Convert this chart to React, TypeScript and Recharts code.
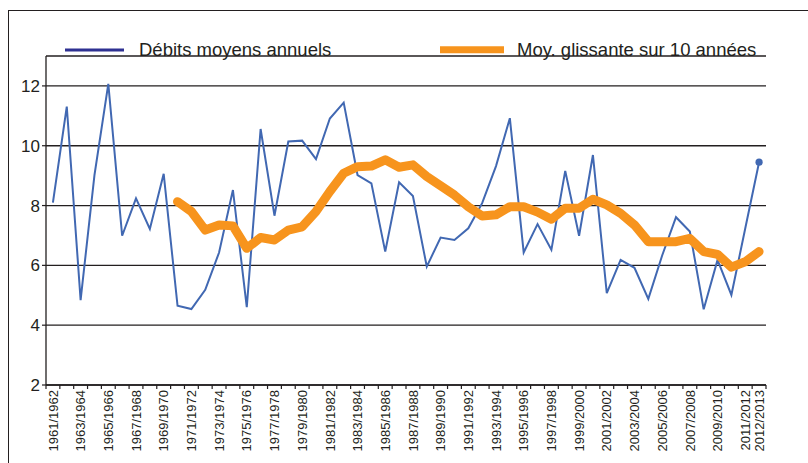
import React from 'react';
import { LineChart, Line, XAxis, YAxis, CartesianGrid } from 'recharts';

const years: string[] = [
  '1961/1962', '1962/1963', '1963/1964', '1964/1965', '1965/1966', '1966/1967', '1967/1968', '1968/1969',
  '1969/1970', '1970/1971', '1971/1972', '1972/1973', '1973/1974', '1974/1975', '1975/1976', '1976/1977',
  '1977/1978', '1978/1979', '1979/1980', '1980/1981', '1981/1982', '1982/1983', '1983/1984', '1984/1985',
  '1985/1986', '1986/1987', '1987/1988', '1988/1989', '1989/1990', '1990/1991', '1991/1992', '1992/1993',
  '1993/1994', '1994/1995', '1995/1996', '1996/1997', '1997/1998', '1998/1999', '1999/2000', '2000/2001',
  '2001/2002', '2002/2003', '2003/2004', '2004/2005', '2005/2006', '2006/2007', '2007/2008', '2008/2009',
  '2009/2010', '2010/2011', '2011/2012', '2012/2013',
];

const debits: number[] = [
  8.10, 11.31, 4.84, 9.02, 12.07, 6.99, 8.24, 7.22, 9.06, 4.65,
  4.54, 5.18, 6.43, 8.52, 4.60, 10.56, 7.66, 10.14, 10.17, 9.55,
  10.91, 11.44, 9.02, 8.74, 6.46, 8.78, 8.32, 5.96, 6.93, 6.85,
  7.24, 8.08, 9.32, 10.92, 6.43, 7.38, 6.52, 9.16, 6.99, 9.69,
  5.07, 6.18, 5.92, 4.88, 6.33, 7.61, 7.13, 4.53, 6.18, 5.01,
  7.23, 9.45,
];

const moyenne: (number | null)[] = [
  null, null, null, null, null, null, null, null, null, 8.13,
  7.80, 7.18, 7.35, 7.32, 6.57, 6.93, 6.85, 7.18, 7.29, 7.80,
  8.47, 9.08, 9.30, 9.32, 9.53, 9.28, 9.36, 8.97, 8.66, 8.35,
  7.96, 7.65, 7.69, 7.96, 7.96, 7.78, 7.54, 7.91, 7.91, 8.21,
  8.02, 7.74, 7.35, 6.79, 6.79, 6.79, 6.90, 6.46, 6.37, 5.94,
  6.12, 6.46,
];

const yTicks: number[] = [2, 4, 6, 8, 10, 12];

const seriesNames: string[] = ['Débits moyens annuels', 'Moy. glissante sur 10 années'];

const data = years.map((year, i) => ({ year, debit: debits[i], moy: moyenne[i] }));

const W = 808;
const H = 463;
const LEFT = 46;
const RIGHT = 42;
const TOP = 56;
const XAXIS_H = 78;
const BAND = (W - LEFT - RIGHT) / years.length;
const FONT = '"Liberation Sans", Arial, sans-serif';
const INK = '#231f20';

const XTick = (props: any) => {
  const { x, y, payload, index } = props;
  const idx = typeof index === 'number' ? index : payload.index;
  const showLabel = idx % 2 === 0 || idx === years.length - 1;
  return (
    <g>
      <line x1={x - BAND / 2} x2={x - BAND / 2} y1={y} y2={y + 4} stroke={INK} strokeWidth={1.2} />
      {idx === years.length - 1 && (
        <line x1={x + BAND / 2} x2={x + BAND / 2} y1={y} y2={y + 4} stroke={INK} strokeWidth={1.2} />
      )}
      {showLabel && (
        <text
          x={x}
          y={y + 5}
          transform={`rotate(-90, ${x}, ${y + 5})`}
          textAnchor="end"
          dy="0.36em"
          fontSize={13}
          fontFamily={FONT}
          fill={INK}
        >
          {payload.value}
        </text>
      )}
    </g>
  );
};

const LastDot = (props: any) => {
  const { cx, cy, index } = props;
  if (index !== years.length - 1 || cx == null || cy == null) return <g key={`d${index}`} />;
  return <circle key={`d${index}`} cx={cx} cy={cy} r={3.6} fill="#4168b2" stroke="none" />;
};

const LegendOverlay = () => (
  <svg width={W} height={80} style={{ position: 'absolute', left: 0, top: 0, display: 'block', overflow: 'visible' }}>
    <line x1={65} x2={124} y1={50} y2={50} stroke="#2e3192" strokeWidth={3} />
    <text x={139} y={56} fontSize={18.5} fontFamily={FONT} fill={INK}>
      {seriesNames[0]}
    </text>
    <line x1={440} x2={504} y1={49.7} y2={49.7} stroke="#f7941d" strokeWidth={7} />
    <text x={517} y={56} fontSize={18.5} fontFamily={FONT} fill={INK}>
      {seriesNames[1]}
    </text>
  </svg>
);

export default function App() {
  return (
    <div style={{ position: 'absolute', left: 0, top: 0, width: W, height: H, overflow: 'hidden', background: '#fff' }}>
      <div
        style={{
          position: 'absolute',
          left: 7.5,
          top: 9.5,
          width: 900,
          height: 600,
          borderTop: `1.6px solid ${INK}`,
          borderLeft: `1.6px solid ${INK}`,
        }}
      />
      <div style={{ position: 'absolute', left: 0, top: 0 }}>
        <LineChart width={W} height={H} data={data} margin={{ top: TOP, right: RIGHT, left: 0, bottom: 0 }}>
          <CartesianGrid vertical={false} stroke={INK} strokeWidth={1.3} />
          <XAxis
            dataKey="year"
            type="category"
            scale="band"
            interval={0}
            height={XAXIS_H}
            tickSize={0}
            tickMargin={0}
            tickLine={false}
            axisLine={{ stroke: INK, strokeWidth: 1.3 }}
            tick={<XTick />}
          />
          <YAxis
            type="number"
            domain={[2, 13]}
            ticks={yTicks}
            width={LEFT}
            tickSize={4}
            tickMargin={2}
            axisLine={{ stroke: INK, strokeWidth: 1.3 }}
            tickLine={{ stroke: INK, strokeWidth: 1.2 }}
            tick={{ fontSize: 17, fill: INK, fontFamily: FONT }}
            interval={0}
          />
          <Line
            type="linear"
            dataKey="debit"
            name={seriesNames[0]}
            stroke="#4168b2"
            strokeWidth={2}
            dot={<LastDot />}
            activeDot={false}
            isAnimationActive={false}
          />
          <Line
            type="linear"
            dataKey="moy"
            name={seriesNames[1]}
            stroke="#f7941d"
            strokeWidth={9}
            strokeLinejoin="round"
            strokeLinecap="round"
            dot={false}
            activeDot={false}
            connectNulls={false}
            isAnimationActive={false}
          />
        </LineChart>
      </div>
      <LegendOverlay />
    </div>
  );
}
